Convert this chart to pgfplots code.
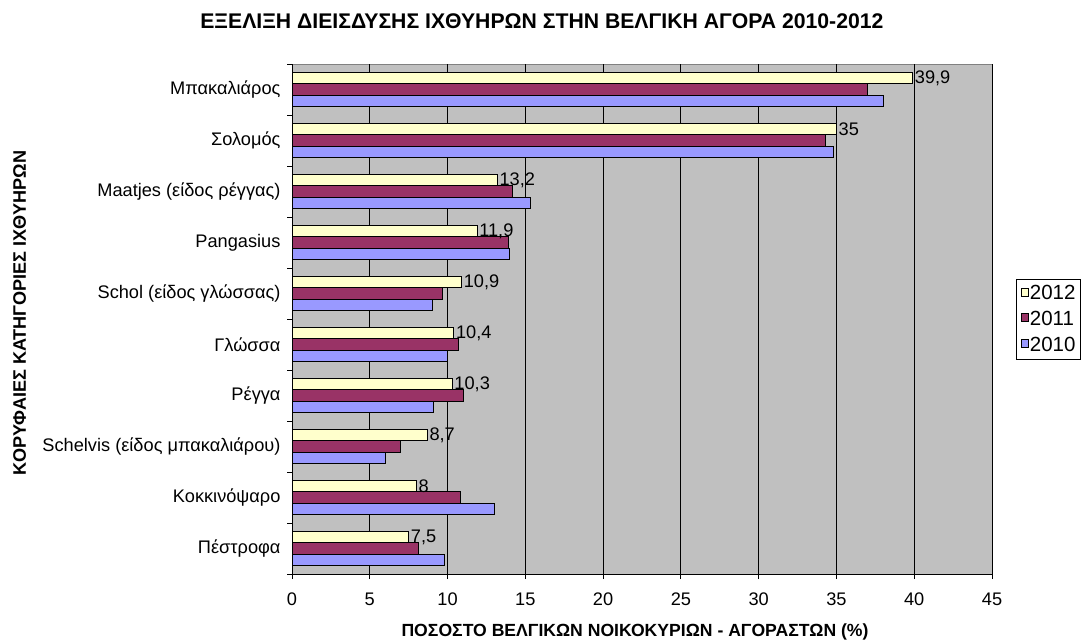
\documentclass[border=0pt]{standalone}
\usepackage{fontspec}
\setmainfont{Liberation Sans}
\usepackage{pgfplots}
\pgfplotsset{compat=1.18}
\definecolor{bgc}{HTML}{C0C0C0}
\definecolor{c2012}{HTML}{FFFFCC}
\definecolor{c2011}{HTML}{993366}
\definecolor{c2010}{HTML}{9999FF}
\definecolor{frm}{HTML}{808080}
\pgfplotsset{mylegend/.style={legend image code/.code={\draw[##1,draw=black,line width=0.8pt] (0pt,-2.5pt) rectangle (7.5pt,5.5pt);}}}
\begin{document}
\begin{tikzpicture}[x=1pt,y=1pt]
\useasboundingbox (0,0) rectangle (1083,640);
\begin{axis}[
  at={(292pt,66pt)}, anchor=south west,
  scale only axis, width=700pt, height=510pt,
  xmin=0, xmax=45, ymin=-0.5, ymax=9.5,
  xbar, bar width=0.222,
  clip=false,
  axis background/.style={fill=bgc, draw=frm, line width=1pt},
  axis x line*=bottom, axis y line*=left,
  axis line style={black, line width=1pt, -},
  xtick={0,5,...,45},
  xmajorgrids, major grid style={black, line width=0.8pt},
  tick align=outside, major tick length=5pt,
  tick style={black, line width=0.8pt},
  ytick={-0.5,0.5,...,9.5}, yticklabels={,,,,,,,,,,,},
  extra y ticks={0,1,2,3,4,5,6,7,8,9},
  extra y tick labels={Πέστροφα,Κοκκινόψαρο,Schelvis (είδος μπακαλιάρου),Ρέγγα,Γλώσσα,Schol (είδος γλώσσας),Pangasius,Maatjes (είδος ρέγγας),Σολομός,Μπακαλιάρος},
  extra y tick style={major tick length=0pt, yticklabel style={xshift=-8pt}},
  tick label style={font=\fontsize{18.2}{21}\selectfont},
  xticklabel style={yshift=-10pt},
  /pgf/number format/assume math mode=true,
  /pgf/number format/use comma,
  /pgf/number format/1000 sep={},
  title={ΕΞΕΛΙΞΗ ΔΙΕΙΣΔΥΣΗΣ ΙΧΘΥΗΡΩΝ ΣΤΗΝ ΒΕΛΓΙΚΗ ΑΓΟΡΑ 2010-2012},
  title style={font=\bfseries\fontsize{21.2}{24}\selectfont, at={(axis description cs:0.357,1.073)}, anchor=center},
  xlabel={ΠΟΣΟΣΤΟ ΒΕΛΓΙΚΩΝ ΝΟΙΚΟΚΥΡΙΩΝ - ΑΓΟΡΑΣΤΩΝ (\%)},
  xlabel style={font=\bfseries\fontsize{17.6}{20}\selectfont, at={(axis description cs:0.49,-0.1137)}, anchor=center},
  ylabel={ΚΟΡΥΦΑΙΕΣ ΚΑΤΗΓΟΡΙΕΣ ΙΧΘΥΗΡΩΝ},
  ylabel style={font=\bfseries\fontsize{18.1}{20}\selectfont, at={(axis description cs:-0.389,0.512)}, anchor=center, rotate=0},
  legend style={at={(axis description cs:1.0346,0.578)}, anchor=north west, draw=black, fill=white, line width=0.8pt, font=\fontsize{20.5}{23}\selectfont, row sep=8pt, inner xsep=4pt, inner ysep=5pt, nodes={inner sep=1pt}},
  legend cell align=left,
]
\addplot[fill=c2012, draw=black, line width=0.8pt, bar shift=0.222, mylegend,
  nodes near coords, point meta=x,
  nodes near coords style={font=\fontsize{18.2}{21}\selectfont, anchor=west, xshift=-1.5pt, black}]
  coordinates {(7.5,0) (8,1) (8.7,2) (10.3,3) (10.4,4) (10.9,5) (11.9,6) (13.2,7) (35,8) (39.9,9)};
\addplot[fill=c2011, draw=black, line width=0.8pt, bar shift=0, mylegend]
  coordinates {(8.1,0) (10.8,1) (7.0,2) (11.0,3) (10.7,4) (9.7,5) (13.9,6) (14.2,7) (34.3,8) (37.0,9)};
\addplot[fill=c2010, draw=black, line width=0.8pt, bar shift=-0.222, mylegend]
  coordinates {(9.8,0) (13.0,1) (6.0,2) (9.1,3) (10.0,4) (9.0,5) (14.0,6) (15.3,7) (34.8,8) (38.0,9)};
\legend{2012,2011,2010}
\end{axis}
\end{tikzpicture}
\end{document}
